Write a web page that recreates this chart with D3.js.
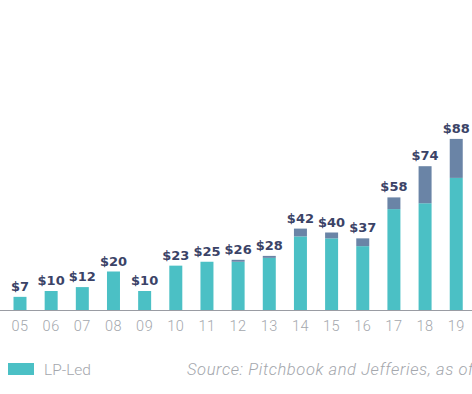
<!DOCTYPE html>
<html>
<head>
    <script src="https://d3js.org/d3.v7.min.js"></script>
    <style>
        body { margin: 0; background-color: #ffffff; }
        svg { display: block; }
    </style>
</head>
<body>
    <svg id="canvas" width="472" height="394"></svg>
    <script>
        const svg = d3.select('#canvas');
        const WIDTH = 472;
        const HEIGHT = 394;
        const BASELINE = 310.5;
        const STEP = 31.16;
        const FIRST_CENTER = 20;

        //years on the axis (the chart is cropped at the right edge)
        const years = ['05', '06', '07', '08', '09', '10', '11', '12', '13', '14', '15', '16', '17', '18', '19'];
        //LP-Led volume ($bn)
        const lpLed = [7, 10, 12, 20, 10, 23, 25, 25, 27, 38, 37, 33, 52, 55, 68];
        //GP-Led volume ($bn)
        const gpLed = [0, 0, 0, 0, 0, 0, 0, 1, 1, 4, 3, 4, 6, 19, 20];
        //totals shown above the bars
        const totals = [7, 10, 12, 20, 10, 23, 25, 26, 28, 42, 40, 37, 58, 74, 88];

        const TEAL = '#4bc0c5';
        const SLATE = '#6a84a6';
        const LABEL = '#3b4367';
        const GREY_TEXT = '#a4a7ad';

        const x = d3.scaleBand()
            .domain(years)
            .range([FIRST_CENTER - STEP / 2, FIRST_CENTER - STEP / 2 + STEP * years.length])
            .paddingInner(0.583)
            .paddingOuter(0.2915);

        const y = d3.scaleLinear()
            .domain([0, 100])
            .range([BASELINE, BASELINE - 195]);

        const data = years.map((yr, i) => ({ yr, lp: lpLed[i], gp: gpLed[i], total: totals[i] }));

        //LP-Led segment
        svg.selectAll('.lp')
            .data(data)
            .enter()
            .append('rect')
            .attr('class', 'lp')
            .attr('x', d => x(d.yr))
            .attr('y', d => y(d.lp))
            .attr('width', x.bandwidth())
            .attr('height', d => y(0) - y(d.lp))
            .attr('fill', TEAL);

        //GP-Led segment stacked on top
        svg.selectAll('.gp')
            .data(data.filter(d => d.gp > 0))
            .enter()
            .append('rect')
            .attr('class', 'gp')
            .attr('x', d => x(d.yr))
            .attr('y', d => y(d.lp + d.gp))
            .attr('width', x.bandwidth())
            .attr('height', d => y(d.lp) - y(d.lp + d.gp))
            .attr('fill', SLATE);

        //value labels
        svg.selectAll('.total')
            .data(data)
            .enter()
            .append('text')
            .attr('class', 'total')
            .attr('x', d => x(d.yr) + x.bandwidth() / 2)
            .attr('y', d => y(Math.max(d.total, d.lp + d.gp)) - 6)
            .attr('text-anchor', 'middle')
            .attr('font-family', '"DejaVu Sans", sans-serif')
            .attr('font-weight', 700)
            .attr('font-size', 13)
            .attr('fill', LABEL)
            .text(d => '$' + d.total);

        //x axis
        const xAxis = svg.append('g')
            .attr('transform', `translate(0,${BASELINE})`)
            .call(d3.axisBottom(x).tickSize(0).tickPadding(10.5));
        xAxis.select('.domain').remove();
        xAxis.selectAll('text')
            .attr('font-family', 'Roboto, sans-serif')
            .attr('font-weight', 300)
            .attr('font-size', 14.5)
            .attr('letter-spacing', 0.5)
            .attr('fill', GREY_TEXT);

        svg.append('line')
            .attr('x1', 0)
            .attr('x2', WIDTH)
            .attr('y1', BASELINE)
            .attr('y2', BASELINE)
            .attr('stroke', '#9a9ca3')
            .attr('stroke-width', 1);

        //legend
        svg.append('rect')
            .attr('x', 8)
            .attr('y', 363)
            .attr('width', 26)
            .attr('height', 12)
            .attr('fill', TEAL);

        svg.append('text')
            .attr('x', 44)
            .attr('y', 375)
            .attr('font-family', 'Roboto, sans-serif')
            .attr('font-weight', 300)
            .attr('font-size', 15.5)
            .attr('fill', GREY_TEXT)
            .text('LP-Led');

        svg.append('text')
            .attr('x', 187)
            .attr('y', 375)
            .attr('font-family', 'Roboto, sans-serif')
            .attr('font-weight', 300)
            .attr('font-style', 'italic')
            .attr('font-size', 16.5)
            .attr('letter-spacing', 0.6)
            .attr('fill', GREY_TEXT)
            .text('Source: Pitchbook and Jefferies, as of');
    </script>
</body>
</html>
